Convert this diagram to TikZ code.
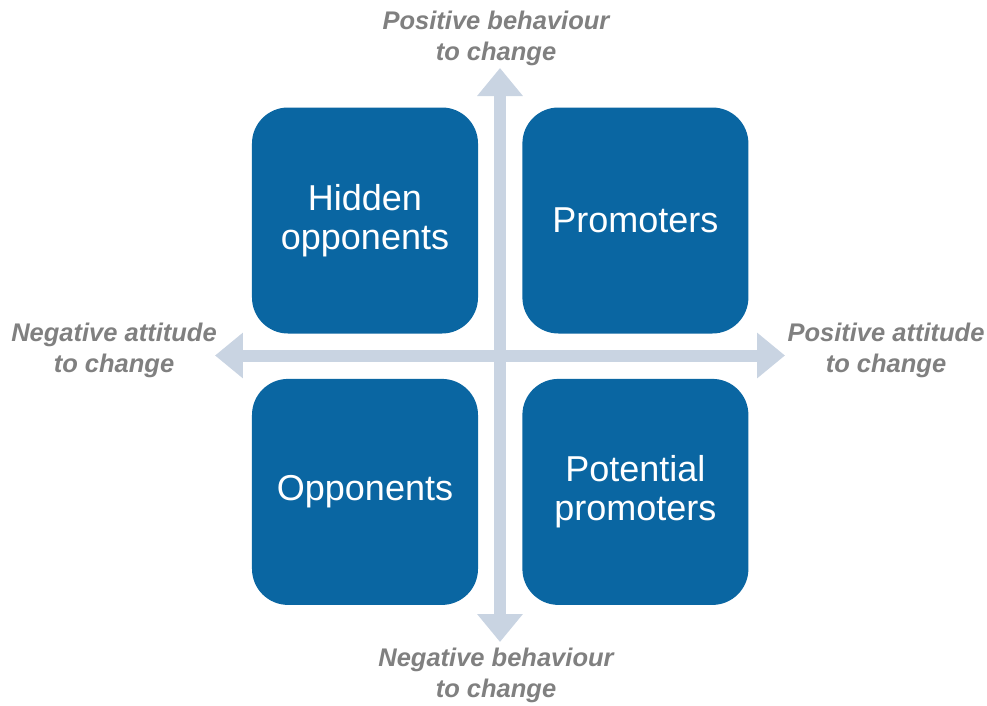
\documentclass[tikz,border=0pt]{standalone}
\usepackage{fontspec}
\setmainfont{Liberation Sans}
\usetikzlibrary{arrows.meta,positioning}

\definecolor{boxblue}{HTML}{0A66A2}
\definecolor{axisblue}{HTML}{C9D4E2}
\definecolor{labelgray}{HTML}{808080}

\begin{document}
\begin{tikzpicture}[
                    x=1pt, y=1pt,
                    quadbox/.style={fill=boxblue, rounded corners=36pt, minimum size=226pt, text=white, align=center, font=\fontsize{36}{39}\selectfont},
                    axislabel/.style={text=labelgray, align=center, font=\fontsize{25.5}{31}\selectfont\bfseries\itshape},
                    axis/.style={draw=axisblue, line width=12pt, {Triangle[width=44pt,length=28pt]}-{Triangle[width=44pt,length=28pt]}},
                    node distance=44pt
                ]
                    \useasboundingbox (-500,355.5) rectangle (487,-349.5);

                    \coordinate (up) at (0,287.5);
                    \coordinate (down) at (0,-286.5);
                    \coordinate (left) at (-285,0);
                    \coordinate (right) at (285,0);
                    \draw[axis] (down) -- (up);
                    \draw[axis] (left) -- (right);

                    \node[quadbox] (hidden) at (-135,135) {Hidden\\opponents};
                    \node[quadbox, right=of hidden] (promoters) {Promoters};
                    \node[quadbox, below=45pt of hidden] (opponents) {Opponents};
                    \node[quadbox, right=of opponents] (potential) {Potential\\promoters};

                    \node[axislabel] (posbehav) at (-4,317) {Positive behaviour\\to change};
                    \node[axislabel] (negbehav) at (-4,-320) {Negative behaviour\\to change};
                    \node[axislabel] (negatt) at (-386,5) {Negative attitude\\to change};
                    \node[axislabel] (posatt) at (386,5) {Positive attitude\\to change};
                \end{tikzpicture}
\end{document}
